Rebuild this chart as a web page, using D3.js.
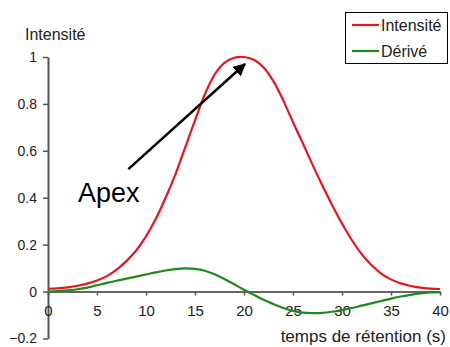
<!DOCTYPE html>
<html><head><meta charset="utf-8">
<script src="https://cdn.jsdelivr.net/npm/d3@7"></script>
<style>
html,body{margin:0;padding:0;background:#fff;}
svg{display:block;font-family:"Liberation Sans",Arial,sans-serif;}
</style></head>
<body>
<svg id="c" width="450" height="347"></svg>
<script>
const times = d3.range(0, 41);
const intensite = [0.012,0.014,0.018,0.025,0.034,0.047,0.066,0.094,0.13,0.175,0.235,0.31,0.40,0.50,0.615,0.73,0.84,0.925,0.975,0.997,1.0,0.988,0.955,0.897,0.815,0.722,0.632,0.54,0.452,0.368,0.29,0.22,0.16,0.113,0.077,0.052,0.035,0.024,0.017,0.013,0.011];
const derive = [0,0.002,0.005,0.01,0.017,0.027,0.037,0.046,0.055,0.064,0.073,0.082,0.09,0.096,0.099,0.097,0.089,0.074,0.054,0.031,0.008,-0.014,-0.035,-0.053,-0.07,-0.083,-0.09,-0.092,-0.091,-0.086,-0.079,-0.07,-0.06,-0.05,-0.04,-0.03,-0.021,-0.014,-0.008,-0.004,-0.002];
const xTicks = [0,5,10,15,20,25,30,35,40];
const yTicks = [-0.2,0,0.2,0.4,0.6,0.8,1];
const seriesNames = ["Intensité","Dérivé"];
const seriesColors = ["#e8161c","#1c8a1c"];
const arrowFrom = [8.2, 0.522];
const arrowTo = [20.1, 0.97];

const svg = d3.select("#c");
const x = d3.scaleLinear().domain([0,40]).range([48,440]);
const y = d3.scaleLinear().domain([-0.2,1]).range([338.5,57]);

// y axis
const yAxis = svg.append("g").attr("transform","translate(48,0)")
  .call(d3.axisLeft(y).tickValues(yTicks).tickSize(5).tickSizeOuter(0).tickFormat(d=>d3.format("")(+d.toFixed(1))));
yAxis.select(".domain").attr("stroke","#555").attr("stroke-width",2);
yAxis.selectAll(".tick line").attr("stroke","#555").attr("stroke-width",1.5);
yAxis.selectAll(".tick text").attr("font-size",14).attr("fill","#222").attr("x",-11)
  .attr("font-family","Liberation Sans, Arial, sans-serif");

// x axis at y=0
const xAxis = svg.append("g").attr("transform",`translate(0,${y(0)})`)
  .call(d3.axisBottom(x).tickValues(xTicks).tickSize(4).tickSizeOuter(0).tickFormat(d3.format("d")));
xAxis.select(".domain").attr("stroke","#666").attr("stroke-width",2);
xAxis.selectAll(".tick line").attr("stroke","#555").attr("stroke-width",1.5);
xAxis.selectAll(".tick text").attr("font-size",15).attr("fill","#222").attr("y",14)
  .attr("font-family","Liberation Sans, Arial, sans-serif");

// lines
const line = d3.line().x((d,i)=>x(times[i])).y(d=>y(d)).curve(d3.curveCatmullRom.alpha(0.5));
[intensite, derive].forEach((s,k)=>{
  svg.append("path").datum(s).attr("d",line).attr("fill","none")
    .attr("stroke",seriesColors[k]).attr("stroke-width",2.2).attr("stroke-linejoin","round");
});

// axis titles
svg.append("text").attr("x",25).attr("y",40).attr("font-size",16).attr("fill","#222").text("Intensité");
svg.append("text").attr("x",446).attr("y",342).attr("text-anchor","end").attr("font-size",17).attr("fill","#222").text("temps de rétention (s)");

// arrow annotation
svg.append("defs").append("marker").attr("id","ah").attr("viewBox","0 0 10 10")
  .attr("refX",9).attr("refY",5).attr("markerWidth",5).attr("markerHeight",5)
  .attr("orient","auto").attr("markerUnits","strokeWidth")
  .append("path").attr("d","M0,0 L10,5 L0,10 z").attr("fill","#000");
svg.append("line").attr("x1",x(arrowFrom[0])).attr("y1",y(arrowFrom[1]))
  .attr("x2",x(arrowTo[0])).attr("y2",y(arrowTo[1]))
  .attr("stroke","#000").attr("stroke-width",2.5).attr("marker-end","url(#ah)");
svg.append("text").attr("x",78).attr("y",202).attr("font-size",27).attr("fill","#000").text("Apex");

// legend
const lg = svg.append("g");
lg.append("rect").attr("x",345.5).attr("y",12.5).attr("width",102).attr("height",51)
  .attr("fill","#fff").attr("stroke","#000").attr("stroke-width",1);
seriesNames.forEach((n,k)=>{
  const ly = 25 + k*26;
  lg.append("line").attr("x1",352).attr("x2",379).attr("y1",ly).attr("y2",ly)
    .attr("stroke",seriesColors[k]).attr("stroke-width",2.2);
  lg.append("text").attr("x",381).attr("y",ly+6).attr("font-size",16).attr("fill","#222").text(n);
});
</script>
</body></html>
